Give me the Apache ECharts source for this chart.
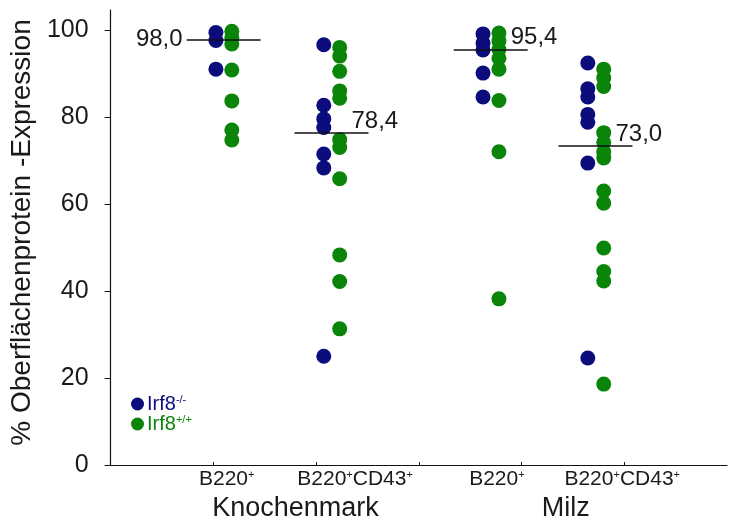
<!DOCTYPE html>
<html>
<head>
<meta charset="utf-8">
<script src="https://cdn.jsdelivr.net/npm/echarts@6/dist/echarts.min.js"></script>
<style>
  html, body { margin: 0; padding: 0; background: #fff; }
  #chart { width: 731px; height: 524px; }
</style>
</head>
<body>
<div id="chart"></div>
<script>
// data
const groupLabels = ['B220+', 'B220+CD43+', 'B220+', 'B220+CD43+']
const organs = ['Knochenmark', 'Milz']
// Irf8-/- (blue), one list per group
const koValues = [
  [99.4, 97.6, 91.0],
  [96.6, 82.7, 79.6, 77.6, 71.5, 68.3, 25.0],
  [99.1, 97.0, 95.4, 90.1, 84.6],
  [92.4, 86.5, 84.6, 80.6, 78.8, 69.4, 24.6]
]
// Irf8+/+ (green)
const wtValues = [
  [99.7, 98.3, 96.8, 90.8, 83.7, 77.0, 74.7],
  [96.0, 94.0, 90.5, 86.0, 84.3, 74.8, 73.0, 65.8, 48.3, 42.2, 31.3],
  [99.3, 97.5, 95.5, 93.5, 91.0, 83.8, 72.0, 38.2],
  [91.0, 89.0, 87.0, 76.4, 74.2, 72.0, 70.6, 63.0, 60.2, 49.9, 44.5, 42.3, 18.6]
]
const medianLevel = [97.8, 76.3, 95.5, 73.3]
const medianText = ['98,0', '78,4', '95,4', '73,0']
const yTicks = [0, 20, 40, 60, 80, 100]

// layout of the groups on the x scale
const groupX = [1.1, 2.15, 3.7, 4.72]
const labelX = [1.13, 2.38, 3.76, 4.98]
const organX = [1.8, 4.43]
const BLUE = '#0c0c7c'
const GREEN = '#0a850a'
const INK = '#1a1a1a'
const HALF = 0.36 // half width of the median bar

function toPoints(groups, dx) {
  const out = []
  groups.forEach((vals, i) => vals.forEach(v => out.push([groupX[i] + dx, v])))
  return out
}
// '+' as superscript
function sup(text) {
  return text.replace(/\+/g, '{s|+}')
}

const myChart = echarts.init(document.getElementById('chart'))
const options = {
  animation: false,
  textStyle: { fontFamily: 'Liberation Sans, Arial, sans-serif' },
  grid: { left: 106, right: 4, top: 10, bottom: 59 },
  legend: {
    orient: 'vertical',
    left: 126,
    top: 389,
    icon: 'circle',
    itemWidth: 13,
    itemHeight: 13,
    itemGap: 0,
    textStyle: {
      fontSize: 20,
      padding: [0, 0, 0, -2],
      rich: { s: { fontSize: 11, verticalAlign: 'top' } }
    },
    data: [
      { name: 'Irf8-/-', textStyle: { color: BLUE } },
      { name: 'Irf8+/+', textStyle: { color: GREEN } }
    ],
    formatter: n => 'Irf8{s|' + n.slice(4) + '}'
  },
  xAxis: [
    {
      type: 'value',
      min: 0,
      max: 6,
      axisLine: { lineStyle: { color: '#111', width: 1.2 } },
      axisTick: { inside: true, length: 3, customValues: [1, 2, 3, 4, 5], lineStyle: { color: '#111' } },
      axisLabel: {
        customValues: labelX,
        formatter: v => sup(groupLabels[labelX.indexOf(v)]),
        fontSize: 21,
        color: INK,
        margin: 4,
        rich: { s: { fontSize: 11, verticalAlign: 'top' } }
      },
      splitLine: { show: false }
    },
    {
      type: 'value',
      min: 0,
      max: 6,
      position: 'bottom',
      axisLine: { show: false },
      axisTick: { show: false },
      axisLabel: {
        customValues: organX,
        formatter: v => organs[organX.indexOf(v)],
        fontSize: 27,
        color: INK,
        margin: 30
      },
      splitLine: { show: false }
    }
  ],
  yAxis: {
    type: 'value',
    min: 0,
    max: 104.6,
    name: '% Oberflächenprotein -Expression',
    nameLocation: 'middle',
    nameRotate: 90,
    nameGap: 66,
    nameTextStyle: { fontSize: 28, color: INK, padding: [0, 0, 0, 10] },
    axisLine: { show: true, lineStyle: { color: '#111', width: 1.2 } },
    axisTick: { show: true, length: 6, customValues: yTicks, lineStyle: { color: '#111' } },
    axisLabel: { customValues: yTicks, fontSize: 25, color: INK, margin: 22 },
    splitLine: { show: false }
  },
  series: [
    {
      name: 'Irf8-/-',
      type: 'scatter',
      symbolSize: 15,
      itemStyle: { color: BLUE, opacity: 1 },
      data: toPoints(koValues, -0.075)
    },
    {
      name: 'Irf8+/+',
      type: 'scatter',
      symbolSize: 15,
      itemStyle: { color: GREEN, opacity: 1 },
      data: toPoints(wtValues, 0.08)
    },
    {
      name: 'median',
      type: 'scatter',
      data: [],
      z: 5,
      markLine: {
        silent: true,
        symbol: 'none',
        label: { show: false },
        lineStyle: { color: '#111', width: 1.5, type: 'solid' },
        data: medianLevel.map((m, i) => [
          { coord: [groupX[i] - HALF, m] },
          { coord: [groupX[i] + HALF, m] }
        ])
      }
    },
    {
      name: 'medianText',
      type: 'scatter',
      symbolSize: 0,
      z: 6,
      silent: true,
      itemStyle: { opacity: 1 },
      data: medianLevel.map((m, i) => ({
        value: [i === 0 ? groupX[i] - HALF : groupX[i] + HALF, m],
        label: i === 0
          ? { position: 'left', distance: 4, offset: [0, 0] }
          : { position: 'right', distance: 5, offset: [-22, -12] }
      })),
      label: {
        show: true,
        fontSize: 24,
        color: INK,
        opacity: 1,
        formatter: p => medianText[p.dataIndex]
      }
    }
  ]
}
myChart.setOption(options)
</script>
</body>
</html>
